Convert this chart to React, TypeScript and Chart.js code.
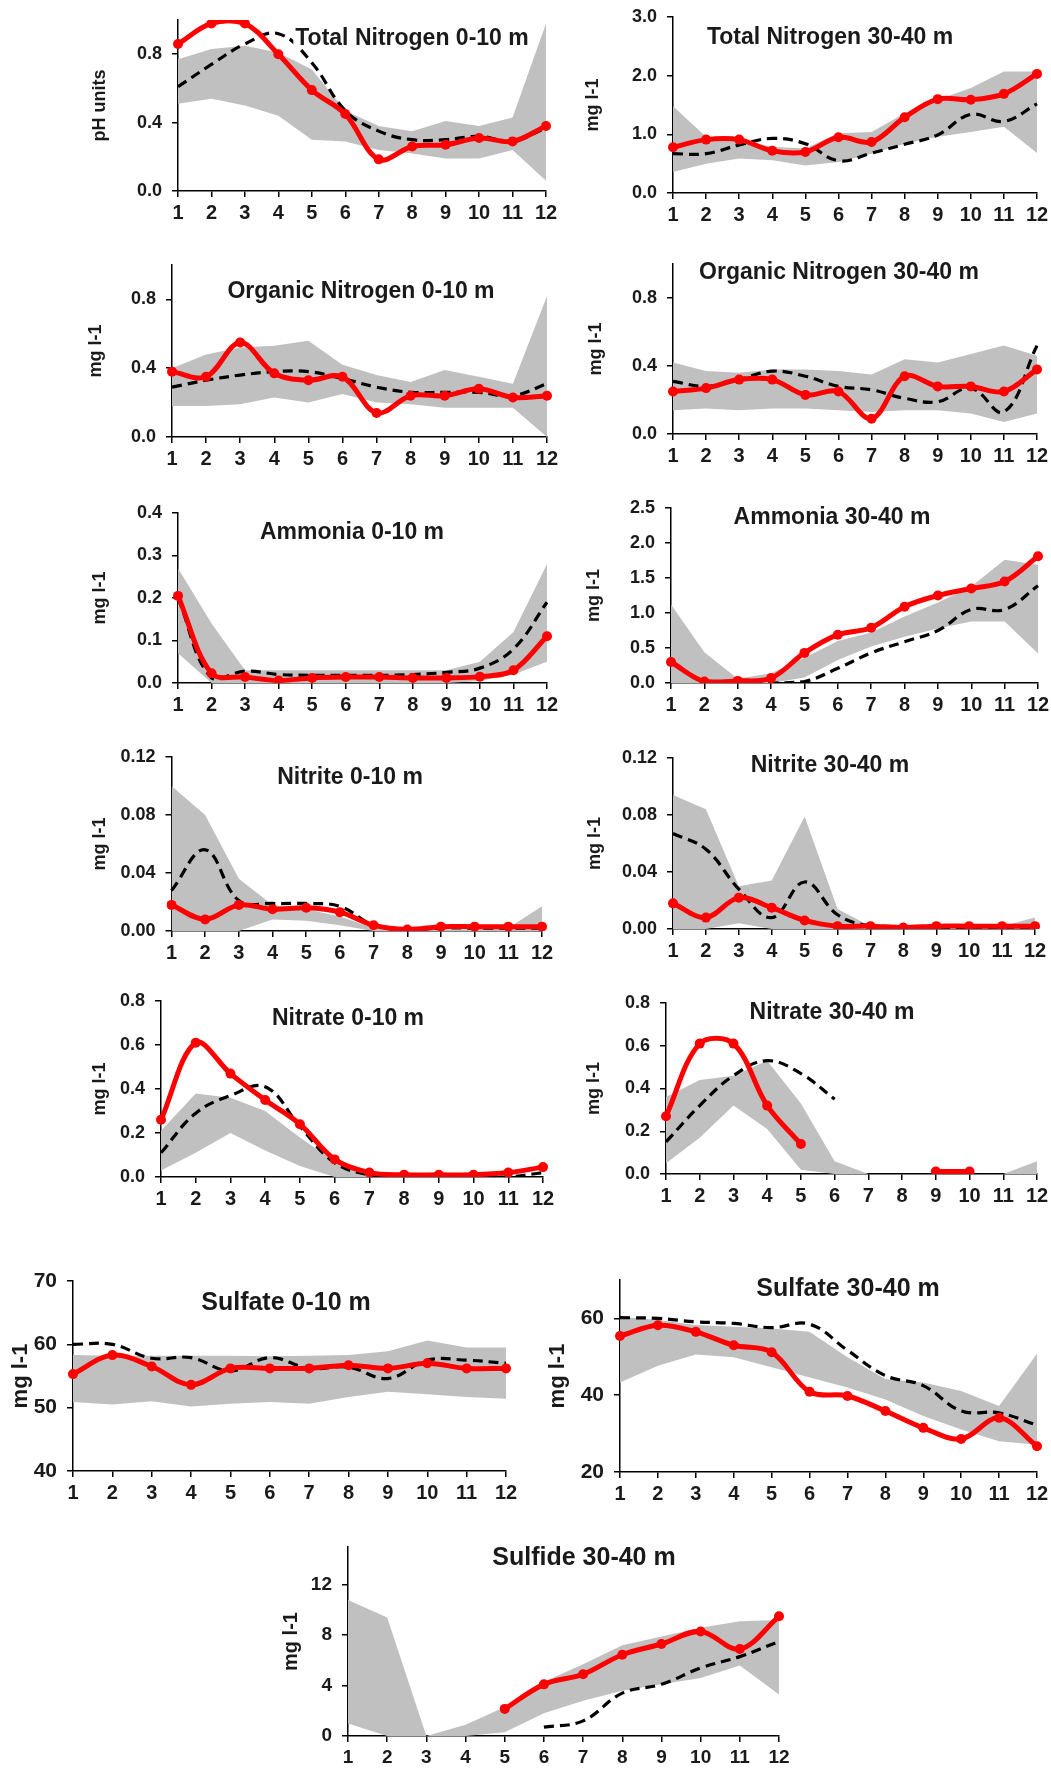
import React, { useEffect, useRef } from "react";
import { Chart, registerables } from "chart.js";

Chart.register(...registerables);

const FONT = '"Liberation Sans", Arial, sans-serif';
const INK = "#1a1a1a";
const RED = "#ff0000";
const BAND = "#c0c0c0";

// Month numbers on every x axis
const months = ["1", "2", "3", "4", "5", "6", "7", "8", "9", "10", "11", "12"];

// Total nitrogen, 0-10 m
const tnSurfYear = [0.86, 0.98, 0.98, 0.8, 0.59, 0.45, 0.185, 0.26, 0.27, 0.31, 0.29, 0.38];
const tnSurfMean = [0.61, 0.74, 0.86, 0.92, 0.75, 0.47, 0.35, 0.3, 0.3, 0.32, 0.29, 0.37];
const tnSurfHigh = [0.77, 0.83, 0.85, 0.81, 0.71, 0.47, 0.38, 0.35, 0.41, 0.38, 0.43, 0.98];
const tnSurfLow = [0.51, 0.54, 0.5, 0.44, 0.3, 0.29, 0.24, 0.22, 0.19, 0.19, 0.24, 0.06];

// Total nitrogen, 30-40 m
const tnDeepYear = [0.78, 0.91, 0.91, 0.72, 0.7, 0.95, 0.87, 1.29, 1.6, 1.59, 1.69, 2.03];
const tnDeepMean = [0.67, 0.67, 0.82, 0.93, 0.84, 0.55, 0.68, 0.83, 0.99, 1.34, 1.22, 1.52];
const tnDeepHigh = [1.48, 0.96, 0.9, 0.79, 0.76, 1.02, 1.04, 1.36, 1.59, 1.79, 2.07, 2.07];
const tnDeepLow = [0.36, 0.5, 0.59, 0.56, 0.47, 0.53, 0.67, 0.84, 0.96, 1.04, 1.13, 0.68];

// Organic nitrogen, 0-10 m
const onSurfYear = [0.38, 0.35, 0.55, 0.37, 0.33, 0.35, 0.14, 0.24, 0.24, 0.28, 0.23, 0.24];
const onSurfMean = [0.29, 0.33, 0.36, 0.38, 0.38, 0.34, 0.29, 0.26, 0.26, 0.26, 0.24, 0.31];
const onSurfHigh = [0.4, 0.48, 0.52, 0.53, 0.56, 0.42, 0.36, 0.32, 0.39, 0.35, 0.31, 0.82];
const onSurfLow = [0.18, 0.18, 0.19, 0.23, 0.2, 0.25, 0.2, 0.19, 0.17, 0.17, 0.17, 0.0];

// Organic nitrogen, 30-40 m
const onDeepYear = [0.25, 0.27, 0.32, 0.32, 0.23, 0.25, 0.09, 0.34, 0.28, 0.28, 0.25, 0.38];
const onDeepMean = [0.31, 0.28, 0.32, 0.37, 0.34, 0.28, 0.26, 0.21, 0.19, 0.27, 0.13, 0.52];
const onDeepHigh = [0.42, 0.37, 0.36, 0.38, 0.38, 0.37, 0.35, 0.44, 0.42, 0.47, 0.52, 0.46];
const onDeepLow = [0.14, 0.15, 0.14, 0.15, 0.15, 0.14, 0.13, 0.14, 0.14, 0.12, 0.07, 0.12];

// Ammonia, 0-10 m
const nhSurfYear = [0.205, 0.023, 0.014, 0.006, 0.012, 0.014, 0.014, 0.012, 0.012, 0.015, 0.03, 0.11];
const nhSurfMean = [0.2, 0.012, 0.028, 0.02, 0.018, 0.018, 0.018, 0.02, 0.025, 0.035, 0.08, 0.19];
const nhSurfHigh = [0.27, 0.14, 0.03, 0.03, 0.03, 0.03, 0.03, 0.03, 0.03, 0.05, 0.12, 0.28];
const nhSurfLow = [0.07, 0.0, 0, 0, 0, 0, 0, 0, 0, 0.005, 0.02, 0.05];

// Ammonia, 30-40 m
const nhDeepYear = [0.3, 0.02, 0.03, 0.07, 0.43, 0.69, 0.79, 1.09, 1.25, 1.35, 1.45, 1.81];
const nhDeepMean = [null, 0.0, 0.0, 0.0, 0.02, 0.21, 0.43, 0.59, 0.75, 1.05, 1.05, 1.39];
const nhDeepHigh = [1.12, 0.44, 0.06, 0.14, 0.36, 0.6, 0.72, 0.95, 1.15, 1.38, 1.76, 1.69];
const nhDeepLow = [0, 0, 0, 0, 0.08, 0.33, 0.52, 0.66, 0.78, 0.88, 0.88, 0.42];

// Nitrite, 0-10 m
const no2SurfYear = [0.018, 0.008, 0.018, 0.015, 0.016, 0.013, 0.004, 0.001, 0.003, 0.003, 0.003, 0.003];
const no2SurfMean = [0.028, 0.056, 0.021, 0.019, 0.019, 0.017, 0.004, 0.001, 0.002, 0.002, 0.002, 0.002];
const no2SurfHigh = [0.1, 0.08, 0.036, 0.018, 0.015, 0.01, 0.002, 0.001, 0.001, 0.001, 0.002, 0.017];
const no2SurfLow = [0, 0, 0, 0.008, 0.007, 0.004, 0, 0, 0, 0, 0, 0];

// Nitrite, 30-40 m
const no2DeepYear = [0.018, 0.008, 0.022, 0.015, 0.006, 0.002, 0.002, 0.001, 0.002, 0.002, 0.002, 0.002];
const no2DeepMean = [0.067, 0.056, 0.028, 0.008, 0.033, 0.01, 0.002, 0.001, 0.001, 0.001, 0.001, 0.001];
const no2DeepHigh = [0.094, 0.084, 0.03, 0.034, 0.079, 0.014, 0.002, 0.002, 0.002, 0.002, 0.002, 0.008];
const no2DeepLow = [0, 0, 0.004, 0, 0, 0, 0, 0, 0, 0, 0, 0];

// Nitrate, 0-10 m
const no3SurfYear = [0.26, 0.61, 0.47, 0.35, 0.24, 0.08, 0.02, 0.01, 0.01, 0.01, 0.02, 0.045];
const no3SurfMean = [0.11, 0.29, 0.37, 0.41, 0.23, 0.065, 0.01, 0.0, 0.0, 0.0, 0.0, 0.02];
const no3SurfHigh = [0.21, 0.38, 0.36, 0.3, 0.18, 0.07, 0.0, 0, 0, 0, 0, 0];
const no3SurfLow = [0.03, 0.11, 0.2, 0.12, 0.05, 0.0, 0, 0, 0, 0, 0, 0];

// Nitrate, 30-40 m
const no3DeepYear = [0.27, 0.61, 0.61, 0.32, 0.14, null, null, null, 0.012, 0.012, null, null];
const no3DeepMean = [0.15, 0.32, 0.46, 0.53, 0.47, 0.35, null, null, null, null, null, null];
const no3DeepHigh = [0.36, 0.44, 0.46, 0.53, 0.33, 0.06, 0, 0, 0, 0, 0, 0.06];
const no3DeepLow = [0.05, 0.17, 0.32, 0.21, 0.02, 0, 0, 0, 0, 0, 0, 0];

// Sulfate, 0-10 m
const so4SurfYear = [55.3, 58.3, 56.5, 53.6, 56.2, 56.2, 56.2, 56.7, 56.2, 57.0, 56.2, 56.2];
const so4SurfMean = [60.0, 60.0, 57.8, 57.9, 55.8, 57.9, 56.2, 56.4, 54.6, 57.5, 57.5, 57.0];
const so4SurfHigh = [58.3, 58.2, 58.2, 58.2, 58.2, 58.1, 58.2, 58.3, 58.9, 60.6, 59.5, 59.5];
const so4SurfLow = [50.9, 50.5, 51.0, 50.2, 50.6, 50.9, 50.6, 51.7, 52.5, 52.1, 51.7, 51.4];

// Sulfate, 30-40 m
const so4DeepYear = [55.4, 58.2, 56.5, 53.0, 51.2, 40.9, 39.8, 35.9, 31.5, 28.6, 34.1, 26.7];
const so4DeepMean = [60.2, 60.0, 59.1, 58.7, 57.6, 58.5, 51.7, 45.1, 42.5, 35.9, 35.4, 32.2];
const so4DeepHigh = [60.4, 59.6, 58.3, 57.8, 57.4, 56.5, 49.9, 44.2, 43.3, 41.1, 37.2, 50.8];
const so4DeepLow = [43.3, 47.7, 50.6, 49.9, 47.3, 44.6, 42.0, 38.9, 34.6, 31.1, 28.0, 27.1];

// Sulfide, 30-40 m
const h2sDeepYear = [null, null, null, null, 2.15, 4.1, 4.9, 6.45, 7.3, 8.3, 6.9, 9.5];
const h2sDeepMean = [null, null, null, null, null, 0.7, 1.2, 3.4, 4.1, 5.4, 6.3, 7.5];
const h2sDeepHigh = [10.8, 9.4, 0, 0.9, 2.3, 4.3, 5.7, 7.2, 7.9, 8.6, 9.1, 9.2];
const h2sDeepLow = [1.0, 0, 0, 0, 0.3, 1.8, 2.8, 3.6, 4.1, 4.6, 5.6, 3.3];

type Series = (number | null)[];

type PanelSpec = {
  title: string;
  yTitle: string;
  year: Series;
  mean: Series;
  high: Series;
  low: Series;
  min: number;
  max: number;
  step: number;
  decimals: number;
  // page geometry
  axisX: number;
  x12: number;
  yTop: number;
  yBottom: number;
  yTitleX: number;
  titleX: number;
  titleY: number;
  // font sizes
  titleSize: number;
  yTickSize: number;
  xTickSize: number;
  yTitleSize: number;
};

const small = { titleSize: 23, yTickSize: 18, xTickSize: 20, yTitleSize: 18 };
const large = { titleSize: 25, yTickSize: 21, xTickSize: 20, yTitleSize: 22 };
const medium = { titleSize: 25, yTickSize: 19, xTickSize: 19, yTitleSize: 20 };

const panels: PanelSpec[] = [
  {
    title: "Total Nitrogen 0-10 m", yTitle: "pH units",
    year: tnSurfYear, mean: tnSurfMean, high: tnSurfHigh, low: tnSurfLow,
    min: 0, max: 1, step: 0.4, decimals: 1,
    axisX: 178, x12: 546, yTop: 20, yBottom: 191, yTitleX: 100, titleX: 412, titleY: 39, ...small,
  },
  {
    title: "Total Nitrogen 30-40 m", yTitle: "mg l-1",
    year: tnDeepYear, mean: tnDeepMean, high: tnDeepHigh, low: tnDeepLow,
    min: 0, max: 3, step: 1, decimals: 1,
    axisX: 673, x12: 1037, yTop: 17, yBottom: 193, yTitleX: 593, titleX: 830, titleY: 37.5, ...small,
  },
  {
    title: "Organic Nitrogen 0-10 m", yTitle: "mg l-1",
    year: onSurfYear, mean: onSurfMean, high: onSurfHigh, low: onSurfLow,
    min: 0, max: 1, step: 0.4, decimals: 1,
    axisX: 172, x12: 547, yTop: 265, yBottom: 437, yTitleX: 96, titleX: 361, titleY: 292, ...small,
  },
  {
    title: "Organic Nitrogen 30-40 m", yTitle: "mg l-1",
    year: onDeepYear, mean: onDeepMean, high: onDeepHigh, low: onDeepLow,
    min: 0, max: 1, step: 0.4, decimals: 1,
    axisX: 673, x12: 1037, yTop: 264, yBottom: 434, yTitleX: 596, titleX: 839, titleY: 272.5, ...small,
  },
  {
    title: "Ammonia 0-10 m", yTitle: "mg l-1",
    year: nhSurfYear, mean: nhSurfMean, high: nhSurfHigh, low: nhSurfLow,
    min: 0, max: 0.4, step: 0.1, decimals: 1,
    axisX: 178, x12: 547, yTop: 513, yBottom: 683, yTitleX: 100, titleX: 352, titleY: 532.5, ...small,
  },
  {
    title: "Ammonia 30-40 m", yTitle: "mg l-1",
    year: nhDeepYear, mean: nhDeepMean, high: nhDeepHigh, low: nhDeepLow,
    min: 0, max: 2.5, step: 0.5, decimals: 1,
    axisX: 671, x12: 1038, yTop: 508, yBottom: 683, yTitleX: 594, titleX: 832, titleY: 517.5, ...small,
  },
  {
    title: "Nitrite 0-10 m", yTitle: "mg l-1",
    year: no2SurfYear, mean: no2SurfMean, high: no2SurfHigh, low: no2SurfLow,
    min: 0, max: 0.12, step: 0.04, decimals: 2,
    axisX: 171.5, x12: 542, yTop: 757, yBottom: 931, yTitleX: 100, titleX: 350, titleY: 777.5, ...small,
  },
  {
    title: "Nitrite 30-40 m", yTitle: "mg l-1",
    year: no2DeepYear, mean: no2DeepMean, high: no2DeepHigh, low: no2DeepLow,
    min: 0, max: 0.12, step: 0.04, decimals: 2,
    axisX: 673, x12: 1035, yTop: 758, yBottom: 929, yTitleX: 595, titleX: 830, titleY: 766, ...small,
  },
  {
    title: "Nitrate 0-10 m", yTitle: "mg l-1",
    year: no3SurfYear, mean: no3SurfMean, high: no3SurfHigh, low: no3SurfLow,
    min: 0, max: 0.8, step: 0.2, decimals: 1,
    axisX: 161, x12: 543, yTop: 1001, yBottom: 1177, yTitleX: 100, titleX: 348, titleY: 1019, ...small,
  },
  {
    title: "Nitrate 30-40 m", yTitle: "mg l-1",
    year: no3DeepYear, mean: no3DeepMean, high: no3DeepHigh, low: no3DeepLow,
    min: 0, max: 0.8, step: 0.2, decimals: 1,
    axisX: 666, x12: 1037, yTop: 1003, yBottom: 1174, yTitleX: 594, titleX: 832, titleY: 1012.5, ...small,
  },
  {
    title: "Sulfate 0-10 m", yTitle: "mg l-1",
    year: so4SurfYear, mean: so4SurfMean, high: so4SurfHigh, low: so4SurfLow,
    min: 40, max: 70, step: 10, decimals: 0,
    axisX: 73, x12: 506, yTop: 1281, yBottom: 1471, yTitleX: 21, titleX: 286, titleY: 1303, ...large,
  },
  {
    title: "Sulfate 30-40 m", yTitle: "mg l-1",
    year: so4DeepYear, mean: so4DeepMean, high: so4DeepHigh, low: so4DeepLow,
    min: 20, max: 70, step: 20, decimals: 0,
    axisX: 620, x12: 1037, yTop: 1280, yBottom: 1472, yTitleX: 558, titleX: 848, titleY: 1289, ...large,
  },
  {
    title: "Sulfide 30-40 m", yTitle: "mg l-1",
    year: h2sDeepYear, mean: h2sDeepMean, high: h2sDeepHigh, low: h2sDeepLow,
    min: 0, max: 15, step: 4, decimals: 0,
    axisX: 348, x12: 779, yTop: 1547, yBottom: 1736, yTitleX: 291, titleX: 584, titleY: 1558, ...medium,
  },
];

const PAD_TOP = 25;
const PAD_RIGHT = 22;
const X_AXIS_H = 45;

function frame(p: PanelSpec) {
  const left = p.yTitleX - 15;
  const top = p.yTop - PAD_TOP;
  return {
    left,
    top,
    yAxisW: p.axisX - left,
    width: Math.round(p.x12 + PAD_RIGHT - left),
    height: Math.round(p.yBottom + X_AXIS_H - top),
  };
}

function Panel({ p }: { p: PanelSpec }) {
  const ref = useRef<HTMLCanvasElement | null>(null);
  const f = frame(p);

  useEffect(() => {
    if (!ref.current) return;

    // Panel heading drawn inside the plot area on a white label box
    const headline = {
      id: "headline",
      afterDatasetsDraw(chart: any) {
        const ctx = chart.ctx as CanvasRenderingContext2D;
        const x = p.titleX - f.left;
        const y = p.titleY - f.top;
        ctx.save();
        ctx.font = `bold ${p.titleSize}px ${FONT}`;
        const w = ctx.measureText(p.title).width;
        ctx.fillStyle = "#ffffff";
        ctx.fillRect(x - w / 2 - 2, y - p.titleSize * 0.42, w + 4, p.titleSize * 0.84);
        ctx.fillStyle = INK;
        ctx.textAlign = "center";
        ctx.textBaseline = "middle";
        ctx.fillText(p.title, x, y);
        ctx.restore();
      },
    };

    const tickGrid = {
      display: true,
      drawOnChartArea: false,
      drawTicks: true,
      tickLength: 6,
      color: "#000",
      lineWidth: 1.5,
    };
    const axisBorder = { display: true, color: "#000", width: 1.5 };

    const chart = new Chart(ref.current, {
      type: "line",
      data: {
        labels: months,
        datasets: [
          {
            data: p.year,
            borderColor: RED,
            backgroundColor: RED,
            borderWidth: 5,
            pointRadius: 5,
            pointBorderWidth: 0,
            pointBackgroundColor: RED,
            tension: 0.35,
            fill: false,
          },
          {
            data: p.mean,
            borderColor: "#000",
            borderWidth: 3.2,
            borderDash: [10, 6],
            pointRadius: 0,
            tension: 0.4,
            fill: false,
          },
          {
            data: p.high,
            borderColor: "rgba(0,0,0,0)",
            borderWidth: 0,
            pointRadius: 0,
            backgroundColor: BAND,
            tension: 0,
            fill: "+1",
          },
          {
            data: p.low,
            borderColor: "rgba(0,0,0,0)",
            borderWidth: 0,
            pointRadius: 0,
            tension: 0,
            fill: false,
          },
        ],
      } as any,
      options: {
        responsive: false,
        animation: false,
        events: [],
        layout: { padding: { left: 0, top: PAD_TOP, right: PAD_RIGHT, bottom: 0 } },
        plugins: {
          legend: { display: false },
          tooltip: { enabled: false },
          title: { display: false },
        },
        scales: {
          x: {
            type: "category",
            offset: false,
            grid: { ...tickGrid, offset: false },
            border: axisBorder,
            ticks: {
              autoSkip: false,
              maxRotation: 0,
              minRotation: 0,
              padding: 4,
              color: INK,
              font: { family: FONT, size: p.xTickSize, weight: "bold" },
            },
            afterFit: (s: any) => {
              s.height = X_AXIS_H;
            },
          },
          y: {
            type: "linear",
            min: p.min,
            max: p.max,
            grid: tickGrid,
            border: axisBorder,
            ticks: {
              stepSize: p.step,
              includeBounds: false,
              padding: 10,
              color: INK,
              font: { family: FONT, size: p.yTickSize, weight: "bold" },
              callback: (v: any) => Number(v).toFixed(p.decimals),
            },
            title: {
              display: true,
              text: p.yTitle,
              color: INK,
              font: { family: FONT, size: p.yTitleSize, weight: "bold", lineHeight: 1 },
              padding: { top: 15 - p.yTitleSize / 2, bottom: 0 },
            },
            afterFit: (s: any) => {
              s.width = f.yAxisW;
            },
          },
        },
      } as any,
      plugins: [headline],
    });

    return () => chart.destroy();
  }, [p]);

  return (
    <canvas
      ref={ref}
      width={f.width}
      height={f.height}
      style={{ position: "absolute", left: f.left, top: f.top, width: f.width, height: f.height }}
    />
  );
}

export default function App() {
  return (
    <div
      style={{
        position: "absolute",
        left: 0,
        top: 0,
        width: 1051,
        height: 1771,
        overflow: "hidden",
        background: "#ffffff",
      }}
    >
      {panels.map((p) => (
        <Panel key={p.title} p={p} />
      ))}
    </div>
  );
}
